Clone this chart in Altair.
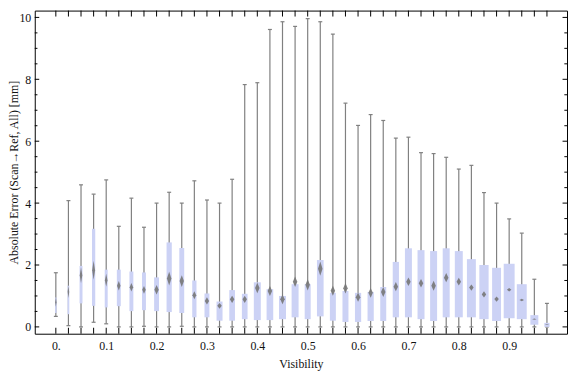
import altair as alt
import pandas as pd

# ---- data ----
visibility = [0.0, 0.025, 0.05, 0.075, 0.1, 0.125, 0.15, 0.175, 0.2, 0.225,
              0.25, 0.275, 0.3, 0.325, 0.35, 0.375, 0.4, 0.425, 0.45, 0.475,
              0.5, 0.525, 0.55, 0.575, 0.6, 0.625, 0.65, 0.675, 0.7, 0.725,
              0.75, 0.775, 0.8, 0.825, 0.85, 0.875, 0.9, 0.925, 0.95, 0.975]
whisker_low = [0.34, 0.04, 0.0, 0.15, 0.10, 0.0, 0.0, 0.02, 0.0, 0.0,
               0.02, 0.0, 0.0, 0.0, 0.0, 0.0, 0.0, 0.0, 0.0, 0.0,
               0.0, 0.0, 0.0, 0.0, 0.0, 0.0, 0.0, 0.0, 0.0, 0.0,
               0.0, 0.0, 0.0, 0.0, 0.0, 0.0, 0.0, 0.0, 0.0, 0.0]
q1 = [0.45, 0.41, 0.76, 0.68, 0.63, 0.67, 0.51, 0.54, 0.51, 0.48,
      0.45, 0.31, 0.31, 0.20, 0.20, 0.25, 0.22, 0.22, 0.25, 0.31,
      0.25, 0.34, 0.20, 0.16, 0.16, 0.19, 0.19, 0.31, 0.31, 0.25,
      0.19, 0.31, 0.31, 0.31, 0.25, 0.19, 0.28, 0.25, 0.07, 0.0]
mean = [0.80, 1.13, 1.67, 1.83, 1.51, 1.33, 1.28, 1.20, 1.20, 1.56,
        1.48, 1.02, 0.84, 0.68, 0.89, 0.89, 1.26, 1.16, 0.89, 1.46,
        1.36, 1.88, 1.17, 1.25, 0.96, 1.10, 1.13, 1.30, 1.46, 1.41,
        1.33, 1.59, 1.46, 1.27, 1.05, 0.90, 1.20, 0.87, 0.25, 0.08]
q3 = [0.95, 1.33, 1.97, 3.17, 1.85, 1.85, 1.79, 1.76, 1.60, 2.73,
      2.55, 1.50, 1.08, 0.82, 1.19, 1.07, 1.44, 1.22, 1.00, 1.38,
      1.38, 2.16, 1.10, 1.16, 1.10, 1.13, 1.29, 2.10, 2.54, 2.48,
      2.45, 2.54, 2.45, 2.19, 2.00, 1.91, 2.04, 1.38, 0.38, 0.13]
whisker_high = [1.75, 4.08, 4.59, 4.29, 4.75, 3.25, 4.16, 3.22, 4.00, 4.35,
                4.00, 4.72, 4.10, 4.00, 4.77, 7.83, 7.89, 9.61, 9.86, 9.71,
                9.96, 9.86, 9.46, 7.23, 6.51, 6.86, 6.67, 6.10, 6.13, 5.63,
                5.60, 5.48, 5.10, 5.22, 4.34, 4.00, 3.49, 3.03, 1.54, 0.76]
mean_ci = [0.15, 0.20, 0.26, 0.31, 0.21, 0.15, 0.14, 0.125, 0.15, 0.22,
           0.19, 0.13, 0.115, 0.09, 0.12, 0.12, 0.17, 0.16, 0.16, 0.17,
           0.18, 0.23, 0.16, 0.17, 0.15, 0.16, 0.16, 0.15, 0.14, 0.14,
           0.16, 0.15, 0.125, 0.10, 0.10, 0.085, 0.06, 0.04, 0.02, 0.01]
# relative sample size (box width, relative to the widest box)
n_rel = [0.14, 0.16, 0.27, 0.30, 0.27, 0.36, 0.36, 0.36, 0.45, 0.48,
         0.45, 0.39, 0.45, 0.55, 0.52, 0.52, 0.64, 0.61, 0.64, 0.64,
         0.55, 0.61, 0.55, 0.55, 0.57, 0.57, 0.55, 0.57, 0.64, 0.64,
         0.64, 0.64, 0.73, 0.82, 0.85, 0.82, 1.00, 0.91, 0.73, 0.48]

x_label_values = [0.0, 0.1, 0.2, 0.3, 0.4, 0.5, 0.6, 0.7, 0.8, 0.9]
y_label_values = [0, 2, 4, 6, 8, 10]
y_minor_values = [0.5, 1, 1.5, 2.5, 3, 3.5, 4.5, 5, 5.5, 6.5, 7, 7.5,
                  8.5, 9, 9.5]

# ---- layout / style ----
W, H = 537, 326
XDOM = [-0.032, 1.005]
YDOM = [-0.22, 10.22]
MAX_BOX_PX = 11
FONT = "Liberation Serif"
TXT = "#111111"
BOX = "#ccd2f5"
WHISK = "#808080"

xs = alt.Scale(domain=XDOM, nice=False, zero=False)
ys = alt.Scale(domain=YDOM, nice=False, zero=False)

df = pd.DataFrame({"v": visibility, "lo": whisker_low, "q1": q1, "m": mean,
                   "q3": q3, "hi": whisker_high, "ci": mean_ci, "n": n_rel})

# diamond (mean +- ci) outlines, built from the data arrays
px_per_x = W / (XDOM[1] - XDOM[0])
rows = []
for i, r in df.iterrows():
    hw = min(0.45 * r.n * MAX_BOX_PX, 2.3) / px_per_x
    for k in (-1, 0, 1):
        s = 1 - abs(k)
        rows.append({"id": i, "dx": r.v + k * hw,
                     "dlo": r.m - s * r.ci, "dhi": r.m + s * r.ci})
dd = pd.DataFrame(rows)

x_axis = alt.Axis(values=x_label_values,
                  labelExpr="datum.value == 0 ? '0.' : format(datum.value, '.1f')",
                  ticks=False, domain=False, grid=False, title="Visibility",
                  labelFont=FONT, labelFontSize=12, labelColor=TXT,
                  titleFont=FONT, titleFontSize=12, titleFontWeight="normal",
                  titleColor=TXT, labelPadding=7, titlePadding=7)
y_axis = alt.Axis(values=y_label_values, format="d",
                  ticks=False, domain=False, grid=False,
                  title="Absolute Error (Scan\u2192Ref, All) [mm]",
                  labelFont=FONT, labelFontSize=12, labelColor=TXT,
                  titleFont=FONT, titleFontSize=12, titleFontWeight="normal",
                  titleColor=TXT, labelPadding=4, titlePadding=-2)


def X(f):
    return alt.X(f, scale=xs, axis=x_axis)


def Y(f):
    return alt.Y(f, scale=ys, axis=y_axis)


base = alt.Chart(df)

whiskers = base.mark_rule(color=WHISK, strokeWidth=1.2).encode(
    x=X("v:Q"), y=Y("lo:Q"), y2="hi:Q")
cap_hi = base.mark_point(shape="stroke", size=16, color=WHISK, strokeWidth=1.2,
                         filled=False, opacity=1).encode(
    x=X("v:Q"), y=Y("hi:Q"))
cap_lo = base.mark_point(shape="stroke", size=16, color=WHISK, strokeWidth=1.2,
                         filled=False, opacity=1).encode(
    x=X("v:Q"), y=Y("lo:Q"))
boxes = base.mark_bar(color=BOX).encode(
    x=X("v:Q"), y=Y("q1:Q"), y2="q3:Q",
    size=alt.Size("n:Q", scale=alt.Scale(domain=[0, 1], range=[0, MAX_BOX_PX]),
                  legend=None))
diamonds = alt.Chart(dd).mark_area(color="#777777", opacity=0.9).encode(
    x=X("dx:Q"), y=Y("dlo:Q"), y2="dhi:Q", detail="id:N")

tick_df = pd.DataFrame({"t": visibility})
ymaj_df = pd.DataFrame({"t": y_label_values})
ymin_df = pd.DataFrame({"t": y_minor_values})
rule = dict(color="black", strokeWidth=1)
bottom_ticks = alt.Chart(tick_df).mark_rule(**rule).encode(
    x=X("t:Q"), y=alt.value(H), y2=alt.value(H - 6))
top_ticks = alt.Chart(tick_df).mark_rule(**rule).encode(
    x=X("t:Q"), y=alt.value(0), y2=alt.value(6))
left_major = alt.Chart(ymaj_df).mark_rule(**rule).encode(
    y=Y("t:Q"), x=alt.value(0), x2=alt.value(4.5))
left_minor = alt.Chart(ymin_df).mark_rule(**rule).encode(
    y=Y("t:Q"), x=alt.value(0), x2=alt.value(2.7))
right_major = alt.Chart(ymaj_df).mark_rule(**rule).encode(
    y=Y("t:Q"), x=alt.value(W), x2=alt.value(W - 4.5))
right_minor = alt.Chart(ymin_df).mark_rule(**rule).encode(
    y=Y("t:Q"), x=alt.value(W), x2=alt.value(W - 2.7))

chart = alt.layer(
    whiskers, cap_hi, cap_lo, boxes, diamonds,
    bottom_ticks, top_ticks, left_major, left_minor, right_major, right_minor
).properties(
    width=W, height=H,
    padding={"left": 0, "top": 0, "right": 0, "bottom": 0},
    background="white"
).configure_view(stroke="black", strokeWidth=1)

chart.save("out.html", embed_options={"renderer": "svg", "actions": False})
